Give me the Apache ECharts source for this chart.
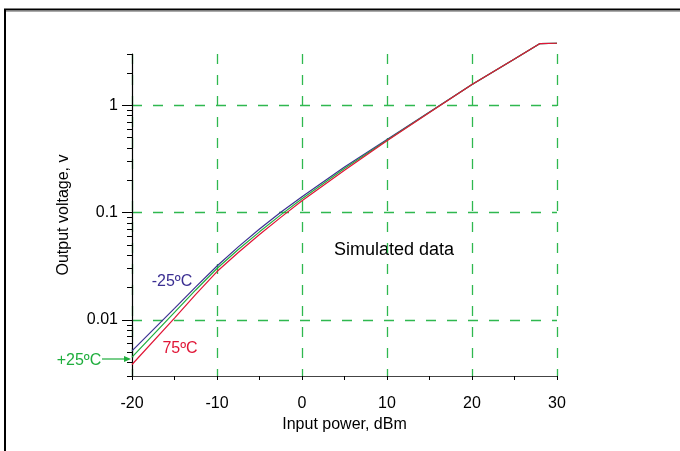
<!DOCTYPE html>
<html>
<head>
<meta charset="utf-8">
<script src="https://cdn.jsdelivr.net/npm/echarts@6.0.0/dist/echarts.min.js"></script>
<style>
  html, body { margin: 0; padding: 0; background: #fff; }
  #main { width: 680px; height: 451px; }
</style>
</head>
<body>
<div id="main"></div>
<script>
// input power, dBm
var inputPower = [-20, -15, -12.5, -10, -7.5, -5, -2.5, 0, 5, 10, 15, 20, 25, 28, 30];
// output voltage, v
var voltM25 = [0.00515, 0.0128, 0.0203, 0.0318, 0.0479, 0.0703, 0.1005, 0.1406, 0.266, 0.478, 0.865, 1.56, 2.69, 3.75, 3.78];
var voltP25 = [0.0045, 0.01175, 0.019, 0.0301, 0.0452, 0.0661, 0.0951, 0.1346, 0.257, 0.472, 0.861, 1.56, 2.69, 3.75, 3.78];
var voltP75 = [0.00384, 0.0104, 0.0173, 0.0282, 0.0425, 0.0624, 0.0902, 0.1288, 0.248, 0.466, 0.857, 1.56, 2.69, 3.75, 3.78];

var majorTicks = [0.01, 0.1, 1];
var minorTicks = [0.003, 0.004, 0.005, 0.006, 0.007, 0.008, 0.009,
  0.02, 0.03, 0.04, 0.05, 0.06, 0.07, 0.08, 0.09,
  0.2, 0.3, 0.4, 0.5, 0.6, 0.7, 0.8, 0.9, 2, 3];

var FONT = '"Liberation Sans", Arial, sans-serif';
var GRID_GREEN = '#2fb84f';

function pairs(xs, ys) {
  return xs.map(function (x, i) { return [x, ys[i]]; });
}

var chart = echarts.init(document.getElementById('main'));

chart.setOption({
  backgroundColor: '#fff',
  animation: false,
  textStyle: { fontFamily: FONT },
  grid: { left: 132, right: 123, top: 54, bottom: 75, containLabel: false },
  xAxis: {
    type: 'value',
    min: -20,
    max: 30,
    interval: 10,
    name: 'Input power, dBm',
    nameLocation: 'middle',
    nameGap: 41,
    nameTextStyle: { fontSize: 16, color: '#000', fontFamily: FONT },
    axisLine: { show: true, onZero: false, lineStyle: { color: '#444', width: 1.2 } },
    axisTick: { show: true, length: 4, lineStyle: { color: '#000' } },
    minorTick: { show: true, splitNumber: 2, length: 4, lineStyle: { color: '#000' } },
    axisLabel: { fontSize: 16, color: '#000', margin: 20, fontFamily: FONT },
    splitLine: { show: true, lineStyle: { color: GRID_GREEN, type: [10, 11], width: 1.3 } }
  },
  yAxis: [
    {
      type: 'log',
      logBase: 10,
      min: 0.003,
      max: 3,
      name: 'Output voltage, v',
      nameLocation: 'middle',
      nameGap: 60,
      nameRotate: 90,
      nameTextStyle: { fontSize: 16, color: '#000', fontFamily: FONT },
      axisLine: { show: true, onZero: false, lineStyle: { color: '#000', width: 1.2 } },
      axisTick: { show: true, length: 10, customValues: majorTicks, lineStyle: { color: '#000' } },
      axisLabel: {
        customValues: majorTicks,
        fontSize: 16,
        color: '#000',
        margin: 14,
        fontFamily: FONT,
        formatter: function (v) { return String(+v.toPrecision(3)); }
      },
      splitLine: { show: true, lineStyle: { color: GRID_GREEN, type: [10, 11], width: 1.3 } }
    },
    {
      type: 'log',
      logBase: 10,
      min: 0.003,
      max: 3,
      position: 'left',
      axisLine: { show: false, onZero: false },
      axisTick: { show: true, length: 5, customValues: minorTicks, lineStyle: { color: '#000' } },
      axisLabel: { show: false },
      splitLine: { show: false }
    }
  ],
  series: [
    {
      name: '-25C',
      type: 'line',
      data: pairs(inputPower, voltM25),
      showSymbol: false,
      clip: false,
      lineStyle: { color: '#3b2f92', width: 1.2 }
    },
    {
      name: '+25C',
      type: 'line',
      data: pairs(inputPower, voltP25),
      showSymbol: false,
      clip: false,
      lineStyle: { color: '#1fae3d', width: 1.2 }
    },
    {
      name: '75C',
      type: 'line',
      data: pairs(inputPower, voltP75),
      showSymbol: false,
      clip: false,
      lineStyle: { color: '#e01536', width: 1.2 }
    }
  ],
  graphic: [
    // frame
    {
      type: 'polyline',
      shape: { points: [[5, 451], [5, 9.5], [680, 9.5]] },
      style: { stroke: '#000', lineWidth: 2, fill: null }
    },
    {
      type: 'line',
      shape: { x1: 6, y1: 11.5, x2: 680, y2: 11.5 },
      style: { stroke: '#aaa', lineWidth: 1 }
    },
    {
      type: 'text',
      x: 394, y: 250,
      style: { text: 'Simulated data', fill: '#000', font: '18px ' + FONT, align: 'center', verticalAlign: 'middle' }
    },
    {
      type: 'text',
      x: 172, y: 282,
      style: { text: '-25ºC', fill: '#3b2f92', font: '16px ' + FONT, align: 'center', verticalAlign: 'middle' }
    },
    {
      type: 'text',
      x: 180, y: 349,
      style: { text: '75ºC', fill: '#e01536', font: '16px ' + FONT, align: 'center', verticalAlign: 'middle' }
    },
    {
      type: 'text',
      x: 79, y: 361,
      style: { text: '+25ºC', fill: '#1fae3d', font: '16px ' + FONT, align: 'center', verticalAlign: 'middle' }
    },
    {
      type: 'line',
      shape: { x1: 102, y1: 359, x2: 126, y2: 359 },
      style: { stroke: '#1fae3d', lineWidth: 1.2 }
    },
    {
      type: 'polygon',
      shape: { points: [[131, 359], [124, 356], [124, 362]] },
      style: { fill: '#1fae3d' }
    }
  ]
});
</script>
</body>
</html>
